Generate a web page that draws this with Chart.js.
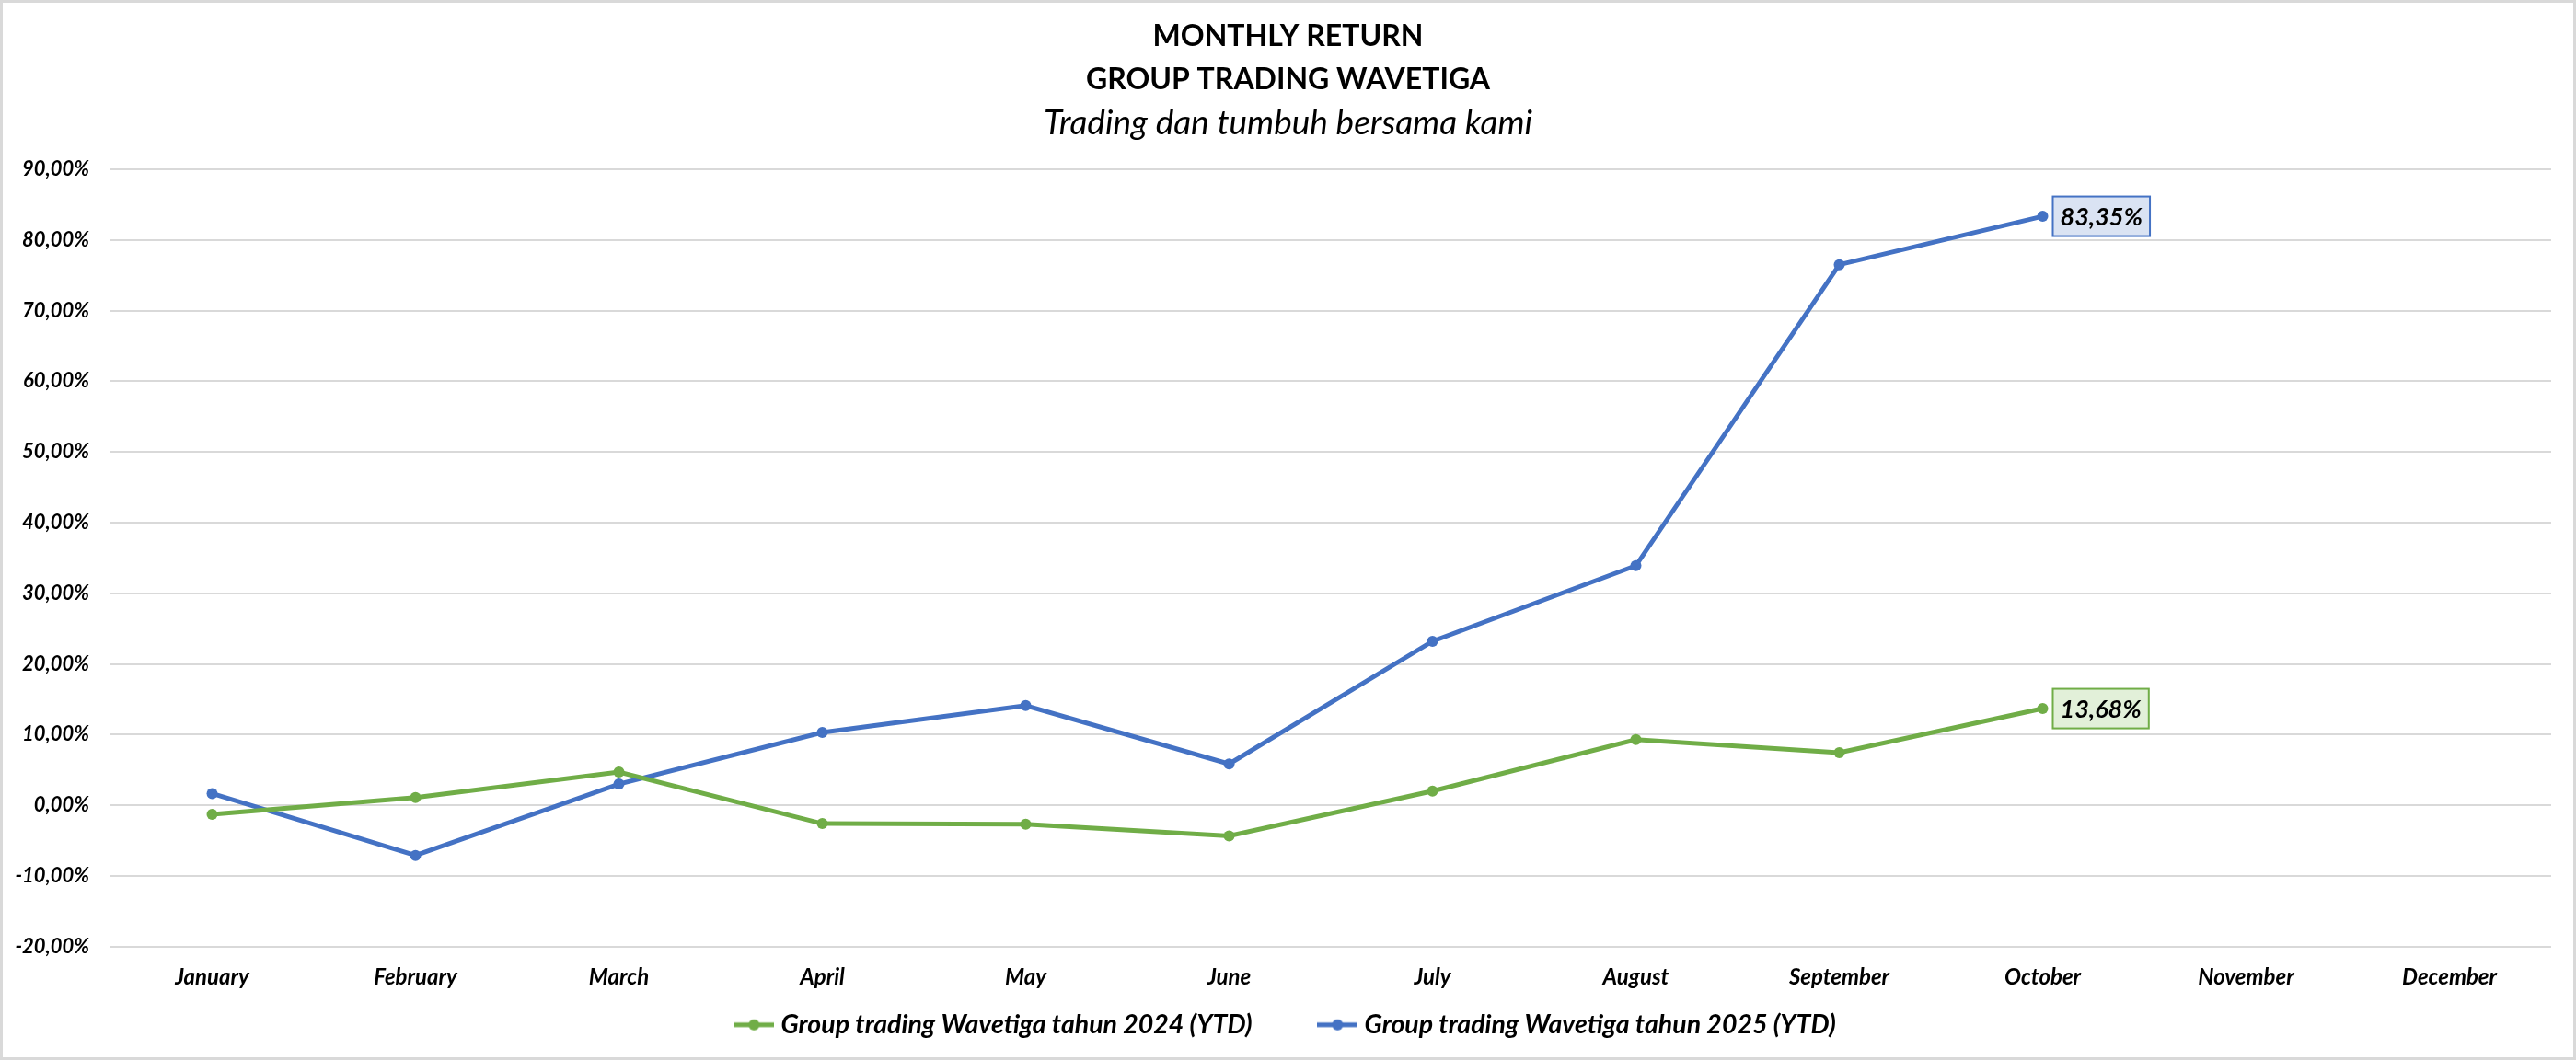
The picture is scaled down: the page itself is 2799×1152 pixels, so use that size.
<!DOCTYPE html>
<html>
<head>
<meta charset="utf-8">
<script src="https://cdn.jsdelivr.net/npm/chart.js@4.4.1/dist/chart.umd.min.js"></script>
<style>
    html, body { margin: 0; padding: 0; background: #ffffff; }
    #wrap { width: 2799px; height: 1152px; }
</style>
</head>
<body>
<div id="wrap"><canvas id="return-chart" width="2799" height="1152"></canvas></div>
<script>
const months = ['January', 'February', 'March', 'April', 'May', 'June',
    'July', 'August', 'September', 'October', 'November', 'December'];
const return2024 = [-1.3, 1.1, 4.7, -2.6, -2.7, -4.35, 2.0, 9.3, 7.45, 13.68, null, null];
const return2025 = [1.65, -7.1, 3.0, 10.3, 14.1, 5.85, 23.2, 33.9, 76.5, 83.35, null, null];
const seriesNames = ['Group trading Wavetiga tahun 2024 (YTD)', 'Group trading Wavetiga tahun 2025 (YTD)'];
const titleLines = ['MONTHLY RETURN', 'GROUP TRADING WAVETIGA'];
const subtitleText = 'Trading dan tumbuh bersama kami';

const GREEN = '#70AD47';
const BLUE = '#4472C4';
const FONT = 'Lato, "Open Sans", sans-serif';

function pct(v) {
    return v.toFixed(2).replace('.', ',') + '%';
}

// legend marker: short line with a dot in the middle
function legendMarker(color) {
    const c = document.createElement('canvas');
    c.width = 44;
    c.height = 14;
    const g = c.getContext('2d');
    g.strokeStyle = color;
    g.lineWidth = 5;
    g.beginPath();
    g.moveTo(0, 7);
    g.lineTo(44, 7);
    g.stroke();
    g.fillStyle = color;
    g.beginPath();
    g.arc(22, 7, 6, 0, Math.PI * 2);
    g.fill();
    return c;
}

const headerPlugin = {
    id: 'header',
    beforeDraw(chart) {
        const ctx = chart.ctx;
        ctx.save();
        ctx.fillStyle = '#ffffff';
        ctx.fillRect(0, 0, chart.width, chart.height);
        ctx.strokeStyle = '#d9d9d9';
        ctx.lineWidth = 3;
        ctx.strokeRect(1.5, 1.5, chart.width - 3, chart.height - 3);
        ctx.restore();
    },
    afterDraw(chart) {
        const ctx = chart.ctx;
        const cx = chart.width / 2;
        ctx.save();
        ctx.fillStyle = '#000000';
        ctx.textAlign = 'center';
        ctx.textBaseline = 'middle';
        ctx.font = 'bold 32px ' + FONT;
        ctx.fillText(titleLines[0], cx, 40);
        ctx.fillText(titleLines[1], cx, 87);
        ctx.font = 'italic 37px ' + FONT;
        ctx.fillText(subtitleText, cx, 134);
        ctx.restore();
    }
};

// value box on the last point of each series
const lastLabelPlugin = {
    id: 'lastLabel',
    afterDatasetsDraw(chart) {
        const ctx = chart.ctx;
        const fills = ['#E2F0D9', '#DAE3F3'];
        chart.data.datasets.forEach((ds, i) => {
            const meta = chart.getDatasetMeta(i);
            let idx = -1;
            ds.data.forEach((v, j) => { if (v !== null) idx = j; });
            if (idx < 0) return;
            const pt = meta.data[idx];
            const text = pct(ds.data[idx]);
            ctx.save();
            ctx.font = 'italic bold 27px ' + FONT;
            const w = ctx.measureText(text).width + 16;
            const h = 43;
            const x = pt.x + 11;
            const y = pt.y - h / 2;
            ctx.fillStyle = fills[i];
            ctx.fillRect(x, y, w, h);
            ctx.strokeStyle = ds.borderColor;
            ctx.lineWidth = 2;
            ctx.strokeRect(x, y, w, h);
            ctx.fillStyle = '#000000';
            ctx.textAlign = 'left';
            ctx.textBaseline = 'middle';
            ctx.fillText(text, x + 8, pt.y + 1);
            ctx.restore();
        });
    }
};

const markers = [legendMarker(GREEN), legendMarker(BLUE)];

new Chart(document.getElementById('return-chart'), {
    type: 'line',
    data: {
        labels: months,
        datasets: [{
            label: seriesNames[0],
            data: return2024,
            borderColor: GREEN,
            backgroundColor: GREEN,
            borderWidth: 5,
            pointRadius: 6,
            pointBorderWidth: 0,
            pointBackgroundColor: GREEN,
            tension: 0,
        }, {
            label: seriesNames[1],
            data: return2025,
            borderColor: BLUE,
            backgroundColor: BLUE,
            borderWidth: 5,
            pointRadius: 6,
            pointBorderWidth: 0,
            pointBackgroundColor: BLUE,
            tension: 0,
        }],
    },
    options: {
        responsive: false,
        animation: false,
        devicePixelRatio: 1,
        layout: {
            padding: { top: 184, right: 0, bottom: 14, left: 0 },
        },
        scales: {
            x: {
                offset: true,
                grid: { display: false, drawTicks: false },
                border: { display: false },
                ticks: {
                    color: '#000000',
                    padding: 19,
                    maxRotation: 0,
                    font: { family: FONT, size: 24, style: 'italic', weight: 'bold' },
                },
            },
            y: {
                min: -20,
                max: 90,
                grid: { color: '#d9d9d9', lineWidth: 2, drawTicks: false },
                border: { display: false },
                afterFit(scale) { scale.width = 120; },
                ticks: {
                    stepSize: 10,
                    color: '#000000',
                    padding: 23,
                    font: { family: FONT, size: 22, style: 'italic', weight: 'bold' },
                    callback: (v) => pct(v),
                },
            },
            // empty right-hand spacer so the legend stays centred on the canvas
            yRight: {
                position: 'right',
                min: -20,
                max: 90,
                grid: { display: false, drawTicks: false },
                border: { display: false },
                ticks: { display: false },
                afterFit(scale) { scale.width = 27; },
            },
        },
        plugins: {
            title: { display: false },
            tooltip: { enabled: false },
            legend: {
                display: true,
                position: 'bottom',
                labels: {
                    color: '#000000',
                    padding: 4,
                    usePointStyle: true,
                    pointStyleWidth: 30,
                    font: { family: FONT, size: 28.5, style: 'italic', weight: 'bold' },
                    generateLabels(chart) {
                        return chart.data.datasets.map((ds, i) => ({
                            text: i === 0 ? ds.label + '\u2003\u2003\u2003\u2002\u200A' : ds.label,
                            fillStyle: ds.borderColor,
                            strokeStyle: ds.borderColor,
                            lineWidth: 0,
                            pointStyle: markers[i],
                            fontColor: '#000000',
                            datasetIndex: i,
                            hidden: false,
                        }));
                    },
                },
            },
        },
    },
    plugins: [headerPlugin, lastLabelPlugin],
});
</script>
</body>
</html>
